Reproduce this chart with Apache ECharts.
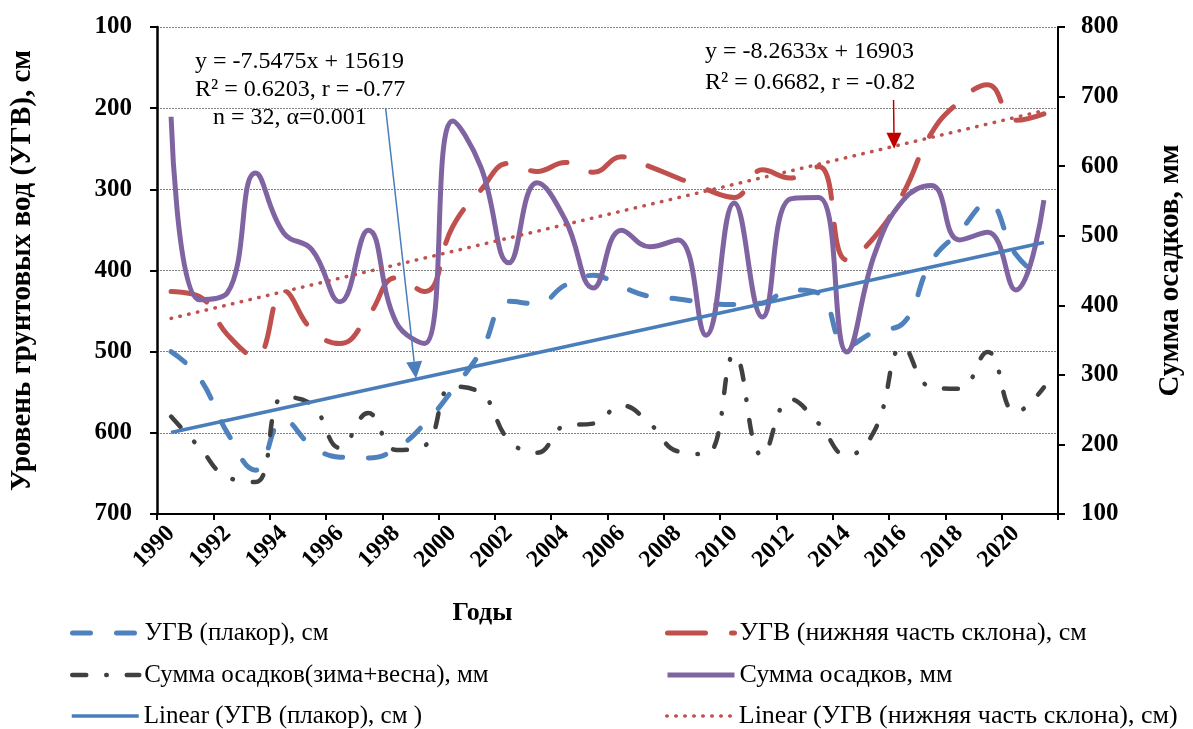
<!DOCTYPE html>
<html>
<head>
<meta charset="utf-8">
<script src="https://cdn.jsdelivr.net/npm/echarts@6/dist/echarts.min.js"></script>
<style>
html,body{margin:0;padding:0;background:#fff;}
#chart{width:1193px;height:729px;}
</style>
</head>
<body>
<div id="chart"></div>
<script>
// ---- data ----
const years = ['1990','1991','1992','1993','1994','1995','1996','1997','1998','1999',
  '2000','2001','2002','2003','2004','2005','2006','2007','2008','2009',
  '2010','2011','2012','2013','2014','2015','2016','2017','2018','2019','2020','2021'];
const ugvPlakor = [500,532,600,646,584,616,630,631,619,589,
  547,500,438,441,418,406,420,432,435,440,
  442,440,424,428,493,475,465,389,352,317,380,412];
const ugvSlope = [426,432,479,506,425,473,490,456,409,426,
  346,301,268,278,267,279,260,272,286,300,
  310,276,286,272,387,358,305,231,192,171,215,207];
const precipWinterSpring = [240,196,153,146,268,257,195,245,192,198,
  283,274,206,188,227,230,256,230,190,186,
  329,184,265,230,184,221,340,282,280,333,246,282];
const precipTotal = [671,408,418,590,504,480,405,508,375,345,
  665,599,461,576,523,425,508,484,494,357,
  547,383,553,555,333,475,551,572,494,505,422,551];
// trend lines: values at first (1990) and last (2021) year
const trendPlakorEnds = [599.5, 365.5];
const trendSlopeEnds = [459, 203];
const leftTicks = [100, 700, 100];   // min, max, interval
const rightTicks = [100, 800, 100];

const names = {
  plakor: 'УГВ (плакор), см',
  slope: 'УГВ (нижняя часть склона), см',
  ws: 'Сумма осадков(зима+весна), мм',
  total: 'Сумма осадков, мм',
  trendP: 'Linear (УГВ (плакор), см )',
  trendS: 'Linear (УГВ (нижняя часть склона), см)'
};

function endsToSeries(ends) {
  return years.map((y, i) => i === 0 ? ends[0] : (i === years.length - 1 ? ends[1] : null));
}

const FONT = '"Liberation Serif", "Times New Roman", serif';
const chart = echarts.init(document.getElementById('chart'), null, {renderer: 'canvas'});

function legendCfg(left, top, size, name) {
  return {
    orient: 'horizontal', left: left, top: top, padding: 0,
    itemWidth: 67, itemHeight: 14,
    textStyle: {fontFamily: FONT, fontSize: size, lineHeight: 26, color: '#000'},
    itemStyle: {opacity: 0},
    lineStyle: {width: 'inherit', type: 'inherit', cap: 'inherit'},
    data: [name]
  };
}
const legendRows = [620, 662, 703];
const option = {
  animation: false,
  backgroundColor: '#fff',
  grid: {left: 157, right: 126, top: 27, bottom: 215, containLabel: false},
  xAxis: {
    type: 'category',
    data: years,
    boundaryGap: true,
    name: 'Годы',
    nameLocation: 'middle',
    nameGap: 86,
    nameTextStyle: {fontFamily: FONT, fontSize: 26, fontWeight: 'bold', color: '#000', padding: [0, 250, 0, 0]},
    axisLine: {lineStyle: {color: '#000', width: 2}},
    axisTick: {show: true, interval: 1, length: 6, lineStyle: {color: '#000', width: 2}},
    axisLabel: {interval: 1, rotate: 45, margin: 16, padding: [40, 0, 0, 0],
      fontFamily: FONT, fontSize: 24, fontWeight: 'bold', color: '#000'},
    splitLine: {show: false}
  },
  yAxis: [
    {
      type: 'value', inverse: true,
      min: leftTicks[0], max: leftTicks[1], interval: leftTicks[2],
      name: 'Уровень грунтовых вод (УГВ), см',
      nameLocation: 'middle', nameRotate: 90, nameGap: 120,
      nameTextStyle: {fontFamily: FONT, fontSize: 29, fontWeight: 'bold', color: '#000'},
      axisLine: {show: true, lineStyle: {color: '#000', width: 2.5}},
      axisTick: {show: true, length: 7, lineStyle: {color: '#000', width: 2}},
      axisLabel: {margin: 25, fontFamily: FONT, fontSize: 25, fontWeight: 'bold', color: '#000'},
      splitLine: {show: true, lineStyle: {color: '#808080', width: 1, type: [2, 1]}}
    },
    {
      type: 'value', position: 'right',
      min: rightTicks[0], max: rightTicks[1], interval: rightTicks[2],
      name: 'Сумма осадков, мм',
      nameLocation: 'middle', nameRotate: 90, nameGap: 98,
      nameTextStyle: {fontFamily: FONT, fontSize: 29, fontWeight: 'bold', color: '#000'},
      axisLine: {show: true, lineStyle: {color: '#000', width: 2}},
      axisTick: {show: true, length: 7, lineStyle: {color: '#000', width: 2}},
      axisLabel: {margin: 23, fontFamily: FONT, fontSize: 25, fontWeight: 'bold', color: '#000'},
      splitLine: {show: false}
    }
  ],
  legend: [
    legendCfg(70, legendRows[0], 25, names.plakor),
    legendCfg(70, legendRows[1], 25, names.ws),
    legendCfg(70, legendRows[2], 25, names.trendP),
    legendCfg(665, legendRows[0], 26, names.slope),
    legendCfg(665, legendRows[1], 26, names.total),
    legendCfg(665, legendRows[2], 26, names.trendS)
  ],
  series: [
    {
      name: names.plakor, type: 'line', yAxisIndex: 0, data: ugvPlakor,
      smooth: 0.45, symbol: 'none', z: 2,
      lineStyle: {color: '#4F81BD', width: 5, type: [18, 26], cap: 'round'},
      itemStyle: {color: '#4F81BD'}
    },
    {
      name: names.slope, type: 'line', yAxisIndex: 0, data: ugvSlope,
      smooth: 0.45, symbol: 'none', z: 2,
      lineStyle: {color: '#C0504D', width: 5, type: [38, 26], cap: 'round'},
      itemStyle: {color: '#C0504D'}
    },
    {
      name: names.ws, type: 'line', yAxisIndex: 1, data: precipWinterSpring,
      smooth: 0.45, symbol: 'none', z: 3,
      lineStyle: {color: '#404040', width: 4.5, type: [14, 20, 0.5, 20], cap: 'round'},
      itemStyle: {color: '#404040'}
    },
    {
      name: names.total, type: 'line', yAxisIndex: 1, data: precipTotal,
      smooth: 0.45, symbol: 'none', z: 3,
      lineStyle: {color: '#8064A2', width: 5},
      itemStyle: {color: '#8064A2'}
    },
    {
      name: names.trendP, type: 'line', yAxisIndex: 0, data: endsToSeries(trendPlakorEnds),
      connectNulls: true, symbol: 'none', z: 4,
      lineStyle: {color: '#4A7EBB', width: 3.5},
      itemStyle: {color: '#4A7EBB'}
    },
    {
      name: names.trendS, type: 'line', yAxisIndex: 0, data: endsToSeries(trendSlopeEnds),
      connectNulls: true, symbol: 'none', z: 4,
      lineStyle: {color: '#C0504D', width: 3.5, type: [0.5, 8.5], cap: 'round'},
      itemStyle: {color: '#C0504D'}
    }
  ]
};
chart.setOption(option);

// annotation arrows positioned in data coordinates (category index, left-axis value)
function pt(idx, val) {
  const a = chart.convertToPixel({xAxisIndex: 0, yAxisIndex: 0}, [0, val]);
  const b = chart.convertToPixel({xAxisIndex: 0, yAxisIndex: 0}, [1, val]);
  return [a[0] + idx * (b[0] - a[0]), a[1]];
}
function arrow(from, to, color, width, headLen, headHalf) {
  const dx = to[0] - from[0], dy = to[1] - from[1];
  const L = Math.sqrt(dx * dx + dy * dy);
  const ux = dx / L, uy = dy / L;
  const base = [to[0] - ux * headLen, to[1] - uy * headLen];
  const nx = -uy, ny = ux;
  return [
    {type: 'line', z: 100, shape: {x1: from[0], y1: from[1], x2: base[0], y2: base[1]},
      style: {stroke: color, lineWidth: width}},
    {type: 'polygon', z: 100, shape: {points: [to,
      [base[0] + nx * headHalf, base[1] + ny * headHalf],
      [base[0] - nx * headHalf, base[1] - ny * headHalf]]},
      style: {fill: color}}
  ];
}
const blueArrow = arrow(pt(7.62, 200), pt(8.70, 533), '#4A7EBB', 1.5, 17, 8);
const redArrow = arrow(pt(25.66, 190), pt(25.68, 250), '#C00000', 1.5, 16, 7.5);

chart.setOption({
  graphic: [
    ...blueArrow, ...redArrow,
    {type: 'text', z: 100, left: 195, top: 48,
      style: {text: 'y = -7.5475x + 15619\nR² = 0.6203, r = -0.77\n   n = 32, α=0.001',
        font: '24px ' + FONT, fill: '#000', lineHeight: 28, align: 'left'}},
    {type: 'text', z: 100, left: 705, top: 36,
      style: {text: 'y = -8.2633x + 16903\nR² = 0.6682, r = -0.82',
        font: '24px ' + FONT, fill: '#000', lineHeight: 31, align: 'center'}}
  ]
});
</script>
</body>
</html>
